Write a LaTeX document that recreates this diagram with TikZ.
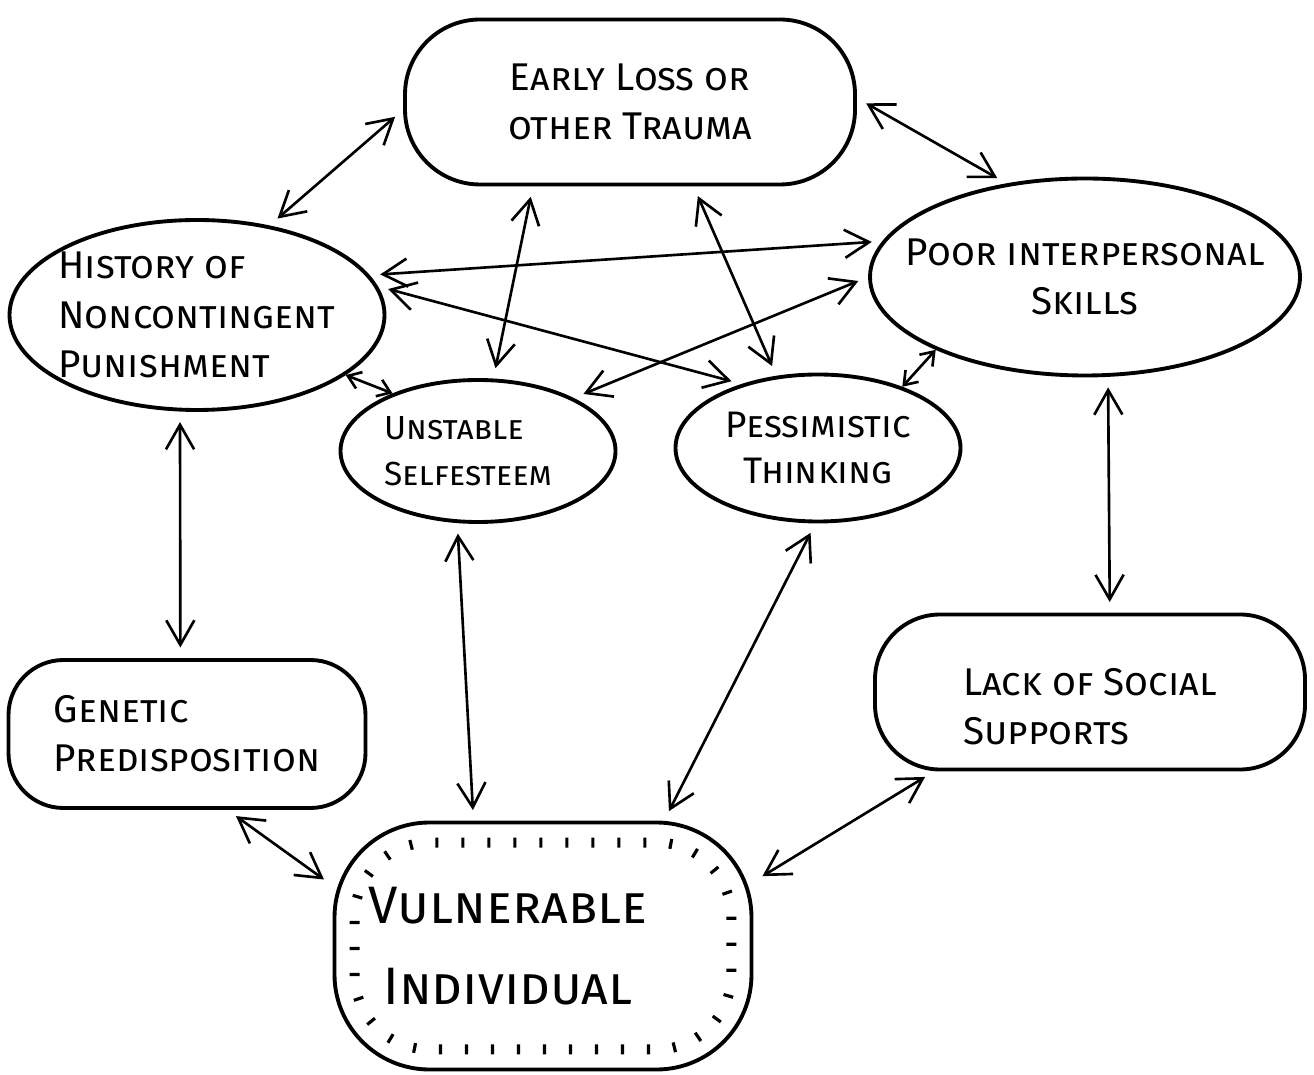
\documentclass[tikz,border=0pt]{standalone}
\usepackage{fontspec}
\setmainfont{Fira Sans}
\usetikzlibrary{shapes.geometric,arrows.meta,decorations.pathreplacing}

\begin{document}
\begin{tikzpicture}[
    >={Straight Barb[length=7pt,width=8pt]},
    sketch/.style={draw, line width=1.1pt},
    oval/.style={sketch, ellipse, inner sep=0pt},
    blob/.style={sketch, rectangle, inner sep=0pt},
    link/.style={<->, line width=0.75pt, shorten <=3pt, shorten >=3pt},
    shortlink/.style={{Straight Barb[length=3.5pt,width=5pt]}-{Straight Barb[length=3.5pt,width=5pt]}, line width=0.75pt},
    tickring/.style={line width=0.9pt, rounded corners=0.75cm,
        decorate, decoration={ticks, segment length=0.26cm, amplitude=0.05cm}},
    every label/.style={font=\fontsize{11}{14}\selectfont\scshape, align=center}
]
    \useasboundingbox (0,0) rectangle (13.14,-10.75);

    % Causes
    \node[blob, rounded corners=0.75cm, minimum width=4.5cm, minimum height=1.65cm,
        label={center:{Early Loss or\\other Trauma}}] (trauma) at (6.30,-1.02) {};
    \node[oval, minimum width=3.75cm, minimum height=1.9cm,
        label={[align=left]center:{History of\\Noncontingent\\Punishment}}] (history) at (1.97,-3.15) {};
    \node[oval, minimum width=4.3cm, minimum height=1.97cm,
        label={center:{Poor interpersonal\\Skills}}] (poor) at (10.85,-2.77) {};
    \node[oval, minimum width=2.75cm, minimum height=1.42cm,
        label={[align=left, font=\fontsize{9.5}{13}\selectfont\scshape, xshift=-0.1cm]center:{Unstable\\Selfesteem}}] (unstable) at (4.78,-4.51) {};
    \node[oval, minimum width=2.85cm, minimum height=1.47cm,
        label={[font=\fontsize{10.5}{13}\selectfont\scshape]center:{Pessimistic\\Thinking}}] (pessim) at (8.18,-4.48) {};
    \node[blob, rounded corners=0.55cm, minimum width=3.57cm, minimum height=1.48cm,
        label={[align=left]center:{Genetic\\Predisposition}}] (genetic) at (1.87,-7.34) {};
    \node[blob, rounded corners=0.65cm, minimum width=4.3cm, minimum height=1.55cm,
        label={[align=left, yshift=-0.15cm]center:{Lack of Social\\Supports}}] (lack) at (10.90,-6.92) {};

    % Individual
    \node[blob, rounded corners=0.95cm, minimum width=4.17cm, minimum height=2.47cm,
        label={[font=\fontsize{15}{23}\selectfont\scshape, xshift=-0.35cm]center:{Vulnerable\\Individual}}] (vuln) at (5.43,-9.46) {};
    \draw[tickring] ([shift={(0.22,0.22)}]vuln.south west) rectangle ([shift={(-0.22,-0.22)}]vuln.north east);

    % Links
    \foreach \a/\b in {trauma.182/history.51, trauma.1/poor.130, trauma.221/unstable.78,
        trauma.307/pessim.120, history.13/poor.170, history.9/pessim.140,
        unstable.29/poor.180, history.260/genetic.95, poor.283/lack.76,
        unstable.254/vuln.119, pessim.268/vuln.46, genetic.298/vuln.164, lack.207/vuln.17}
        \draw[link] (\a) -- (\b);
    \draw[shortlink] (history.338) -- (unstable.146);
    \draw[shortlink] (pessim.36) -- (poor.206);
\end{tikzpicture}
\end{document}
